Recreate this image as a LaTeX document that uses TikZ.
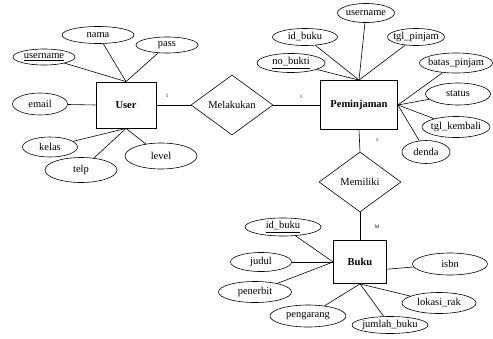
\documentclass[tikz,border=0pt]{standalone}
\usepackage{fontspec}
\setmainfont{Liberation Serif}
\usetikzlibrary{shapes.geometric}

\begin{document}
\begin{tikzpicture}[x=1pt, y=-1pt, line width=0.6pt,
    font=\fontsize{10.5}{12}\selectfont,
    entity/.style={draw, line width=0.8pt, inner sep=0pt, font=\fontsize{10.5}{12}\selectfont\bfseries},
    attr/.style={draw, ellipse, inner xsep=-14pt, inner ysep=-4pt},
    rel/.style={draw, diamond, inner sep=0pt, minimum width=82, minimum height=60},
    card/.style={inner sep=0pt, font=\fontsize{5}{6}\selectfont}]
    \useasboundingbox (0,0) rectangle (493,338);
    % Entities
    \node[entity, minimum width=60, minimum height=46] (user) at (126,105) {User};
    \node[entity, minimum width=77, minimum height=49] (pem) at (359,105) {Peminjaman};
    \node[entity, minimum width=53, minimum height=43] (buku) at (360,262) {Buku};
    % Relationships
    \node[rel] (mel) at (232,105) {Melakukan};
    \node[rel] (mem) at (360,182) {Memiliki};
    \draw (user.east) -- (mel.west);
    \draw (mel.east) -- (pem.west);
    \draw (pem.south) -- (mem.north);
    \draw (mem.south) -- (buku.north);
    \node[card] (c1) at (167,96) {1};
    \node[card] (c2) at (301,97) {1};
    \node[card] (c3) at (377,140) {1};
    \node[card] (c4) at (377,227) {M};
    % Attributes of User
    \node[attr, minimum width=62, minimum height=16] (u_username) at (44,57) {\underline{username}};
    \node[attr, minimum width=72, minimum height=17] (u_nama) at (98,35) {nama};
    \node[attr, minimum width=62, minimum height=16] (u_pass) at (167,45) {pass};
    \node[attr, minimum width=55, minimum height=22] (u_email) at (40,104) {email};
    \node[attr, minimum width=55, minimum height=20] (u_kelas) at (50,147) {kelas};
    \node[attr, minimum width=72, minimum height=25] (u_telp) at (81,170) {telp};
    \node[attr, minimum width=72, minimum height=26] (u_level) at (161,156) {level};
    \foreach \a in {u_username, u_nama, u_pass}
        \draw (\a) -- (user.north);
    \draw (u_email) -- (user.west);
    \foreach \a in {u_kelas, u_telp, u_level}
        \draw (\a) -- (user.south);
    % Attributes of Peminjaman
    \node[attr, minimum width=68, minimum height=19] (p_nobukti) at (291,63) {\underline{no\_bukti}};
    \node[attr, minimum width=65, minimum height=17] (p_idbuku) at (305,37) {id\_buku};
    \node[attr, minimum width=57, minimum height=19] (p_username) at (366,13) {username};
    \node[attr, minimum width=57, minimum height=17] (p_tglpinjam) at (416,37) {tgl\_pinjam};
    \node[attr, minimum width=73, minimum height=20] (p_bataspinjam) at (456,63) {batas\_pinjam};
    \node[attr, minimum width=65, minimum height=22] (p_status) at (458,94) {status};
    \node[attr, minimum width=68, minimum height=21] (p_tglkembali) at (456,127) {tgl\_kembali};
    \node[attr, minimum width=48, minimum height=23] (p_denda) at (426,152) {denda};
    \foreach \a in {p_nobukti, p_idbuku, p_username, p_tglpinjam}
        \draw (\a) -- (pem.north);
    \foreach \a in {p_bataspinjam, p_status, p_tglkembali, p_denda}
        \draw (\a) -- (pem.east);
    % Attributes of Buku
    \node[attr, minimum width=76, minimum height=18] (b_idbuku) at (283,227) {\underline{id\_buku}};
    \node[attr, minimum width=61, minimum height=19] (b_judul) at (261,262) {judul};
    \node[attr, minimum width=73, minimum height=21] (b_penerbit) at (255,292) {penerbit};
    \node[attr, minimum width=76, minimum height=22] (b_pengarang) at (308,316) {pengarang};
    \node[attr, minimum width=76, minimum height=17] (b_jumlahbuku) at (390,325) {jumlah\_buku};
    \node[attr, minimum width=74, minimum height=21] (b_lokasirak) at (439,303) {lokasi\_rak};
    \node[attr, minimum width=75, minimum height=22] (b_isbn) at (450,264) {isbn};
    \foreach \a in {b_idbuku, b_judul, b_penerbit}
        \draw (\a) -- (buku.west);
    \foreach \a in {b_pengarang, b_jumlahbuku, b_lokasirak}
        \draw (\a) -- (buku.south);
    \draw (b_isbn) -- (buku.-15);
\end{tikzpicture}
\end{document}
